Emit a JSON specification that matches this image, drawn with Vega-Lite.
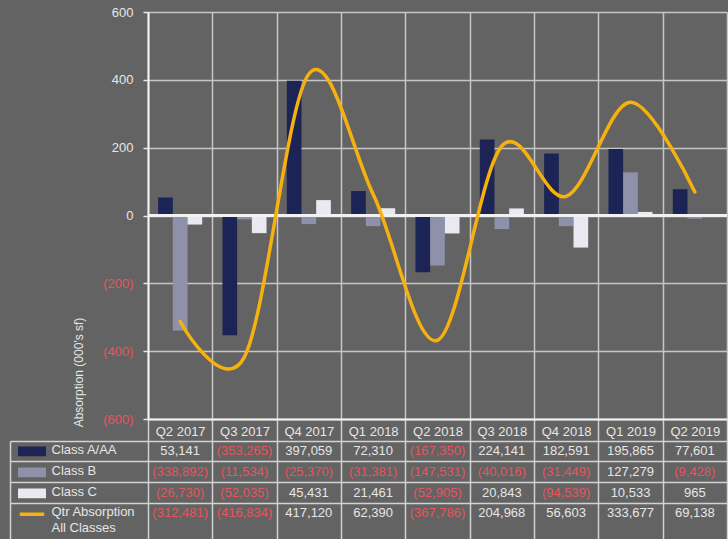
{
  "$schema": "https://vega.github.io/schema/vega-lite/v6.json",
  "background": "#636363",
  "padding": {"left": 9, "top": 6, "right": 0, "bottom": 0},
  "autosize": {"type": "pad"},
  "bounds": "flush",
  "spacing": 22,
  "config": {
    "font": "Liberation Sans",
    "view": {"stroke": null},
    "axis": {"labelFontSize": 13, "labelColor": "#e6e6e6", "titleColor": "#e6e6e6", "titleFontWeight": "normal", "titleFontSize": 12}
  },
  "data": {
    "values": [
      {"quarter": "Q2 2017", "series": "Class A/AA", "value": 53141},
      {"quarter": "Q3 2017", "series": "Class A/AA", "value": -353265},
      {"quarter": "Q4 2017", "series": "Class A/AA", "value": 397059},
      {"quarter": "Q1 2018", "series": "Class A/AA", "value": 72310},
      {"quarter": "Q2 2018", "series": "Class A/AA", "value": -167350},
      {"quarter": "Q3 2018", "series": "Class A/AA", "value": 224141},
      {"quarter": "Q4 2018", "series": "Class A/AA", "value": 182591},
      {"quarter": "Q1 2019", "series": "Class A/AA", "value": 195865},
      {"quarter": "Q2 2019", "series": "Class A/AA", "value": 77601},
      {"quarter": "Q2 2017", "series": "Class B", "value": -338892},
      {"quarter": "Q3 2017", "series": "Class B", "value": -11534},
      {"quarter": "Q4 2017", "series": "Class B", "value": -25370},
      {"quarter": "Q1 2018", "series": "Class B", "value": -31381},
      {"quarter": "Q2 2018", "series": "Class B", "value": -147531},
      {"quarter": "Q3 2018", "series": "Class B", "value": -40016},
      {"quarter": "Q4 2018", "series": "Class B", "value": -31449},
      {"quarter": "Q1 2019", "series": "Class B", "value": 127279},
      {"quarter": "Q2 2019", "series": "Class B", "value": -9428},
      {"quarter": "Q2 2017", "series": "Class C", "value": -26730},
      {"quarter": "Q3 2017", "series": "Class C", "value": -52035},
      {"quarter": "Q4 2017", "series": "Class C", "value": 45431},
      {"quarter": "Q1 2018", "series": "Class C", "value": 21461},
      {"quarter": "Q2 2018", "series": "Class C", "value": -52905},
      {"quarter": "Q3 2018", "series": "Class C", "value": 20843},
      {"quarter": "Q4 2018", "series": "Class C", "value": -94539},
      {"quarter": "Q1 2019", "series": "Class C", "value": 10533},
      {"quarter": "Q2 2019", "series": "Class C", "value": 965},
      {"quarter": "Q2 2017", "series": "Qtr Absorption All Classes", "value": -312481},
      {"quarter": "Q3 2017", "series": "Qtr Absorption All Classes", "value": -416834},
      {"quarter": "Q4 2017", "series": "Qtr Absorption All Classes", "value": 417120},
      {"quarter": "Q1 2018", "series": "Qtr Absorption All Classes", "value": 62390},
      {"quarter": "Q2 2018", "series": "Qtr Absorption All Classes", "value": -367786},
      {"quarter": "Q3 2018", "series": "Qtr Absorption All Classes", "value": 204968},
      {"quarter": "Q4 2018", "series": "Qtr Absorption All Classes", "value": 56603},
      {"quarter": "Q1 2019", "series": "Qtr Absorption All Classes", "value": 333677},
      {"quarter": "Q2 2019", "series": "Qtr Absorption All Classes", "value": 69138}
    ]
  },
  "vconcat": [
    {
      "width": 579,
      "height": 407,
      "layer": [
        {
          "transform": [{"filter": "datum.series !== 'Qtr Absorption All Classes'"}],
          "mark": {"type": "bar"},
          "encoding": {
            "x": {
              "field": "quarter", "type": "nominal",
              "scale": {"type": "band", "domain": ["Q2 2017", "Q3 2017", "Q4 2017", "Q1 2018", "Q2 2018", "Q3 2018", "Q4 2018", "Q1 2019", "Q2 2019"], "paddingInner": 0, "paddingOuter": 0},
              "axis": {
                "title": null, "labelAngle": 0, "tickBand": "extent",
                "grid": true, "gridColor": "#c6c6c6", "gridWidth": 1.5,
                "domain": true, "domainColor": "#f2f2f2", "domainWidth": 2,
                "ticks": true, "tickSize": 22, "tickColor": "#d2d2d2", "tickWidth": 1.5,
                "labelBaseline": "middle", "labelPadding": -10
              }
            },
            "xOffset": {
              "field": "series", "type": "nominal",
              "sort": ["Class A/AA", "Class B", "Class C"],
              "scale": {"paddingInner": 0, "paddingOuter": 0.69}
            },
            "y": {
              "field": "value", "type": "quantitative",
              "title": "Absorption (000's sf)",
              "scale": {"domain": [-600000, 600000], "nice": false, "zero": false},
              "axis": {
                "values": [-600000, -400000, -200000, 0, 200000, 400000, 600000],
                "labelExpr": "datum.value < 0 ? '(' + format(-datum.value / 1000, ',') + ')' : format(datum.value / 1000, ',') + '\u2008'",
                "labelColor": {"condition": {"test": "datum.value < 0", "value": "#e5565b"}, "value": "#e6e6e6"},
                "grid": true, "gridColor": "#c6c6c6", "gridWidth": 1.5,
                "domain": true, "domainColor": "#f2f2f2", "domainWidth": 2,
                "tickSize": 5, "tickColor": "#e6e6e6", "tickWidth": 1.5,
                "labelPadding": 10,
                "titleX": -70, "titleY": 360, "titleAlign": "center", "titleBaseline": "middle", "titleAngle": -90
              }
            },
            "color": {
              "field": "series", "type": "nominal",
              "scale": {
                "domain": ["Class A/AA", "Class B", "Class C", "Qtr Absorption All Classes"],
                "range": ["#1b2454", "#8f90aa", "#e9e9f1", "#f7b10f"]
              },
              "legend": {
                "orient": "none", "legendX": -130, "legendY": 429,
                "title": null, "direction": "vertical", "padding": 0,
                "clipHeight": 20.7, "rowPadding": 0,
                "symbolSize": 600, "symbolType": "M-1,-0.25H1V0.25H-1Z",
                "labelExpr": "''", "labelOpacity": 0, "labelFontSize": 1,
                "encode": {
                  "symbols": {
                    "update": {
                      "shape": {"signal": "datum.value === 'Qtr Absorption All Classes' ? 'stroke' : 'M-1,-0.25H1V0.25H-1Z'"},
                      "fill": {"signal": "datum.value === 'Qtr Absorption All Classes' ? 'transparent' : datum.value === 'Class A/AA' ? '#1b2454' : datum.value === 'Class B' ? '#8f90aa' : '#e9e9f1'"},
                      "stroke": {"signal": "datum.value === 'Qtr Absorption All Classes' ? '#f7b10f' : 'transparent'"},
                      "strokeWidth": {"value": 3.5},
                      "opacity": {"value": 1}
                    }
                  }
                }
              }
            }
          }
        },
        {
          "mark": {"type": "rule", "color": "#f2f2f2", "strokeWidth": 2},
          "encoding": {"y": {"datum": 0}}
        },
        {
          "transform": [{"filter": "datum.series === 'Qtr Absorption All Classes'"}],
          "mark": {"type": "line", "interpolate": "cardinal", "strokeWidth": 3.5, "strokeCap": "round"},
          "encoding": {
            "x": {"field": "quarter", "type": "nominal"},
            "y": {"field": "value", "type": "quantitative", "title": "Absorption (000's sf)"},
            "color": {"field": "series", "type": "nominal"}
          }
        }
      ]
    },
    {
      "width": 579,
      "height": 98,
      "mark": {"type": "text", "fontSize": 13, "baseline": "middle"},
      "encoding": {
        "x": {
          "field": "quarter", "type": "nominal",
          "scale": {"type": "band", "domain": ["Q2 2017", "Q3 2017", "Q4 2017", "Q1 2018", "Q2 2018", "Q3 2018", "Q4 2018", "Q1 2019", "Q2 2019"], "paddingInner": 0, "paddingOuter": 0},
          "axis": {
            "title": null, "labels": false, "ticks": false, "domain": false,
            "tickBand": "extent", "grid": true, "gridColor": "#d2d2d2", "gridWidth": 1.5
          }
        },
        "y": {
          "field": "series", "type": "nominal",
          "scale": {"type": "band", "domain": ["Class A/AA", "Class B", "Class C", "Qtr Absorption All Classes"], "paddingInner": 0, "paddingOuter": 0.367, "align": 0},
          "axis": {
            "title": null, "orient": "left", "offset": 138, "bandPosition": 0,
            "domain": true, "domainColor": "#d2d2d2", "domainWidth": 1.5,
            "ticks": true, "tickSize": -138, "tickColor": "#d2d2d2", "tickWidth": 1.5,
            "grid": true, "gridColor": "#d2d2d2", "gridWidth": 1.5,
            "labelAlign": "left", "labelBaseline": "top", "labelPadding": 97, "labelOffset": -7,
            "labelLineHeight": 16, "labelLimit": 0, "labelBound": false,
            "labelExpr": "datum.value === 'Qtr Absorption All Classes' ? ['Qtr Absorption', 'All Classes'] : datum.value"
          }
        },
        "text": {"field": "value", "type": "quantitative", "format": "(,"},
        "color": {"condition": {"test": "datum.value < 0", "value": "#e5565b"}, "value": "#e6e6e6"}
      }
    }
  ]
}
